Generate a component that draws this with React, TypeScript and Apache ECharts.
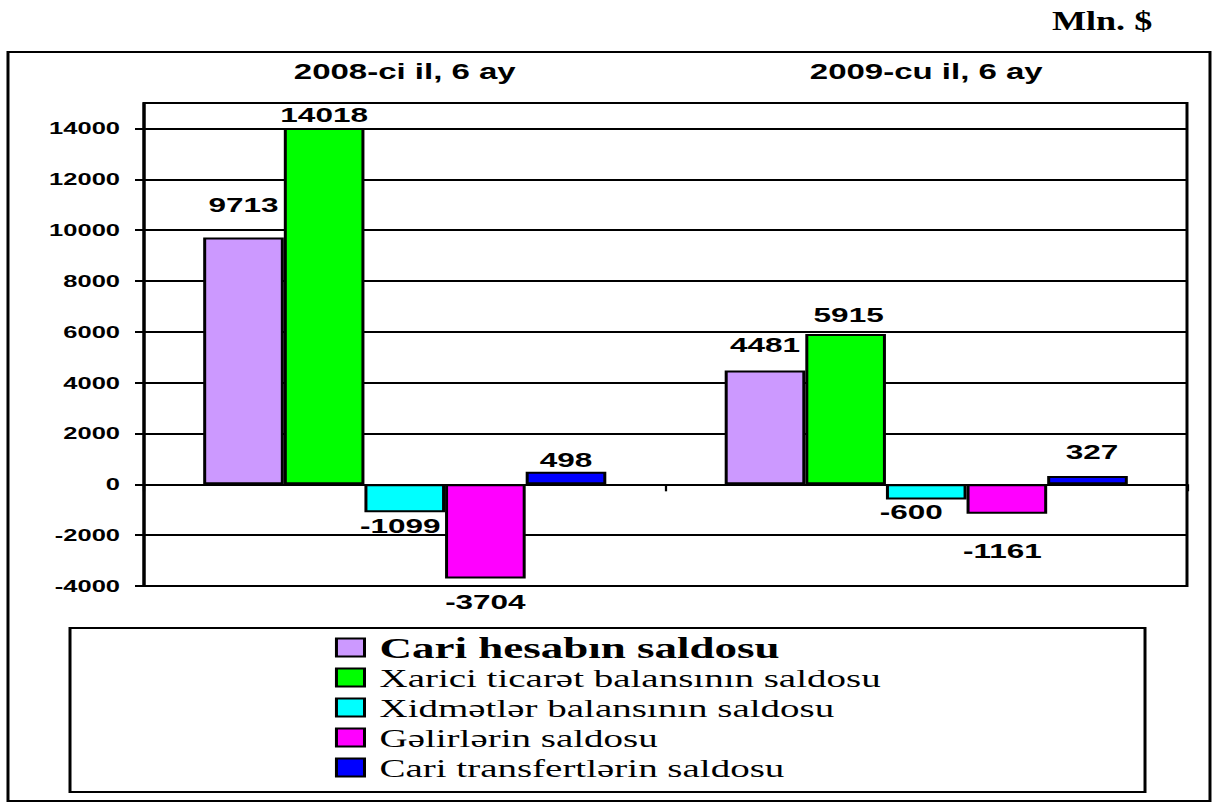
import React, { useEffect, useRef } from "react";
import * as echarts from "echarts";

// ---- data ----
const categories = ["2008-ci il, 6 ay", "2009-cu il, 6 ay"];
const seriesNames = [
  "Cari hesabın saldosu",
  "Xarici ticarət balansının saldosu",
  "Xidmətlər balansının saldosu",
  "Gəlirlərin saldosu",
  "Cari transfertlərin saldosu",
];
const currentAccount = [9713, 4481];
const tradeBalance = [14018, 5915];
const servicesBalance = [-1099, -600];
const incomeBalance = [-3704, -1161];
const transfersBalance = [498, 327];
const yTicks = [-4000, -2000, 0, 2000, 4000, 6000, 8000, 10000, 12000, 14000];
const unitLabel = "Mln. $";

// ---- styling ----
const S = 1.5; // horizontal stretch of the whole picture
const W = 1214 / S;
const H = 803;
const colors = ["#CC99FF", "#00FF00", "#00FFFF", "#FF00FF", "#0000FF"];
// label nudges [dx, dy] per series per category (unscaled px)
const labelNudge = [
  [[0, -17], [0, -10]],
  [[0, 2], [2, -4]],
  [[-3, -2], [-10, -3]],
  [[0, 8], [-3, 22]],
  [[0, 4], [3, -9]],
];
const legendCenters = [647.5, 677.5, 707.5, 737.5, 767.5];
const serif = '"Liberation Serif", "Times New Roman", serif';
const sans = '"Liberation Sans", Arial, sans-serif';

export default function App() {
  const ref = useRef<HTMLDivElement>(null);
  useEffect(() => {
    if (!ref.current) return;
    const chart = echarts.init(ref.current, undefined, { renderer: "svg" });
    const values = [currentAccount, tradeBalance, servicesBalance, incomeBalance, transfersBalance];
    const series = values.map((vals, si) => ({
      type: "bar",
      name: seriesNames[si],
      xAxisIndex: 0,
      yAxisIndex: 0,
      barGap: "0%",
      barCategoryGap: "22.7%",
      itemStyle: { color: colors[si], borderColor: "#000", borderWidth: 2 },
      label: {
        show: true,
        fontFamily: sans,
        fontWeight: "bold",
        fontSize: 21,
        color: "#000",
      },
      data: vals.map((v, ci) => ({
        value: v,
        label: {
          position: v < 0 ? "bottom" : "top",
          offset: labelNudge[si][ci],
        },
      })),
    }));
    const legends = seriesNames.map((n, i) => {
      const fs = i === 0 ? 30 : 26;
      return {
        data: [n],
        left: 223.3,
        top: legendCenters[i] - fs / 2,
        orient: "horizontal",
        padding: 0,
        itemWidth: 18.7,
        itemHeight: 18,
        icon: "rect",
        selectedMode: false,
        textStyle: {
          fontFamily: serif,
          fontSize: fs,
          fontWeight: i === 0 ? "bold" : "normal",
          color: "#000",
          padding: [0, 0, 0, 5],
        },
      };
    });
    chart.setOption({
      animation: false,
      backgroundColor: "#fff",
      grid: {
        left: 96,
        top: 103,
        width: 695.33,
        height: 483,
        show: true,
        borderColor: "#000",
        borderWidth: 2,
      },
      xAxis: [
        {
          type: "category",
          data: categories,
          position: "bottom",
          axisLine: { onZero: true, lineStyle: { color: "#000", width: 2 } },
          axisTick: { show: true, length: 7, lineStyle: { color: "#000", width: 1.5 } },
          axisLabel: { show: false },
          splitLine: { show: false },
        },
        {
          type: "category",
          data: categories,
          position: "top",
          axisLine: { show: false, onZero: false },
          axisTick: { show: false },
          axisLabel: {
            margin: 20,
            fontFamily: sans,
            fontWeight: "bold",
            fontSize: 22,
            color: "#000",
          },
          splitLine: { show: false },
        },
      ],
      yAxis: {
        type: "value",
        min: -4000,
        max: 15000,
        interval: 2000,
        axisLine: { show: true, lineStyle: { color: "#000", width: 2 } },
        axisTick: { show: true, length: 6, customValues: yTicks, lineStyle: { color: "#000", width: 2 } },
        axisLabel: {
          customValues: yTicks,
          margin: 16,
          fontFamily: sans,
          fontWeight: "bold",
          fontSize: 17,
          color: "#000",
          formatter: (v: number) => (v > 14000 ? "" : String(v)),
        },
        splitLine: { show: true, lineStyle: { color: "#000", width: 2 } },
      },
      legend: legends,
      series,
      graphic: [
        {
          type: "rect",
          silent: true,
          shape: { x: 5.33, y: 52, width: 801.33, height: 749 },
          style: { fill: "none", stroke: "#000", lineWidth: 2 },
        },
        {
          type: "rect",
          silent: true,
          shape: { x: 46.67, y: 628, width: 716.67, height: 164 },
          style: { fill: "none", stroke: "#000", lineWidth: 2 },
        },
        {
          type: "text",
          x: 734.7,
          y: 20,
          scaleX: 0.86,
          style: {
            text: unitLabel,
            fontFamily: serif,
            fontWeight: "bold",
            fontSize: 28,
            fill: "#000",
            align: "center",
            verticalAlign: "middle",
          },
        },
      ],
    });
    return () => chart.dispose();
  }, []);
  return (
    <div
      style={{
        position: "fixed",
        left: 0,
        top: 0,
        width: 1214,
        height: 803,
        overflow: "hidden",
        background: "#fff",
      }}
    >
      <div
        ref={ref}
        style={{
          width: W,
          height: H,
          transform: `scaleX(${S})`,
          transformOrigin: "0 0",
        }}
      />
    </div>
  );
}
